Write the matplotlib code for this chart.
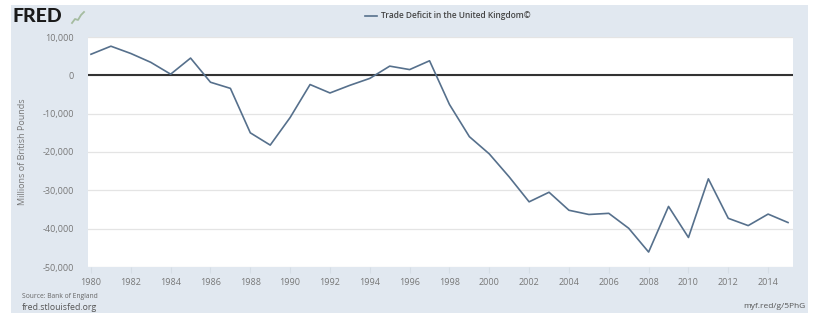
import matplotlib
matplotlib.use("Agg")
import matplotlib.pyplot as plt
from matplotlib.patches import Rectangle
from matplotlib.ticker import FuncFormatter

years = list(range(1980, 2016))
deficit = [5500, 7600, 5700, 3400, 300, 4500, -1800, -3400, -15000, -18200,
           -11000, -2400, -4600, -2600, -800, 2400, 1500, 3800, -7600, -16000,
           -20500, -26500, -33000, -30500, -35200, -36300, -36000, -39900, -46100, -34200,
           -42300, -27000, -37300, -39200, -36200, -38400]
series_name = "Trade Deficit in the United Kingdom©"
y_ticks = [10000, 0, -10000, -20000, -30000, -40000, -50000]
x_ticks = list(range(1980, 2015, 2))

W, H = 817, 315
fig = plt.figure(figsize=(W / 100, H / 100), dpi=100, facecolor="white")
plt.rcParams['font.family'] = ['Open Sans', 'DejaVu Sans']

bg = "#e1e8f0"
fig.patches.append(Rectangle((11 / W, 1 - 313 / H), (808 - 11) / W, (313 - 5) / H,
                             transform=fig.transFigure, facecolor=bg, edgecolor="none", zorder=-10))

ax = fig.add_axes([88 / W, 1 - 267 / H, (793 - 88) / W, (267 - 37) / H])
ax.set_zorder(5)
ax.set_facecolor("white")
ax.plot(years, deficit, color="#56708c", lw=1.2, zorder=3)
ax.axhline(0, color="#333333", lw=1.5, zorder=2)

ax.set_xlim(1979.85, 2015.25)
ax.set_ylim(-50000, 10000)
ax.set_yticks(y_ticks)
ax.set_xticks(x_ticks)
ax.yaxis.set_major_formatter(FuncFormatter(lambda v, p: f"{v:,.0f}"))
ax.grid(axis="y", color="#e4e4e4", lw=0.9, zorder=1)
for s in ax.spines.values():
    s.set_visible(False)
ax.tick_params(axis="y", length=0, pad=10, labelsize=6.5, labelcolor="#777777")
ax.tick_params(axis="x", length=4, color="#d5dde5", pad=4, labelsize=6.5, labelcolor="#777777")
ax.set_ylabel("Millions of British Pounds", fontsize=6.5, color="#777777")
ax.yaxis.set_label_coords(-(88 - 27) / (793 - 88), 0.5)

# legend / title
fig.lines.append(plt.Line2D([365 / W, 377 / W], [1 - 16 / H, 1 - 16 / H], transform=fig.transFigure,
                            color="#56708c", lw=1.2))
fig.text(381 / W, 1 - 16 / H, series_name, fontsize=6, color="#444444", weight="semibold",
         ha="left", va="center")

# FRED logo
fig.text(13 / W, 1 - 16 / H, "FRED", fontsize=14, weight="black", color="#1a1a1a",
         ha="left", va="center", family=["Lato", "DejaVu Sans"])
fig.lines.append(plt.Line2D([72 / W, 75 / W, 78 / W, 81 / W, 84 / W], [1 - 23 / H, 1 - 19 / H, 1 - 20 / H, 1 - 15 / H, 1 - 12 / H],
                            transform=fig.transFigure, color="#a5bca0", lw=1.3))

fig.text(22 / W, 1 - 296 / H, "Source: Bank of England", fontsize=4.9, color="#666666", ha="left", va="center")
fig.text(22 / W, 1 - 307 / H, "fred.stlouisfed.org", fontsize=6.3, color="#555555", ha="left", va="center")
fig.text(806 / W, 1 - 307 / H, "myf.red/g/5PhG", fontsize=6, color="#555555", ha="right", va="center")

fig.savefig("out.png", dpi=100, facecolor="white")
